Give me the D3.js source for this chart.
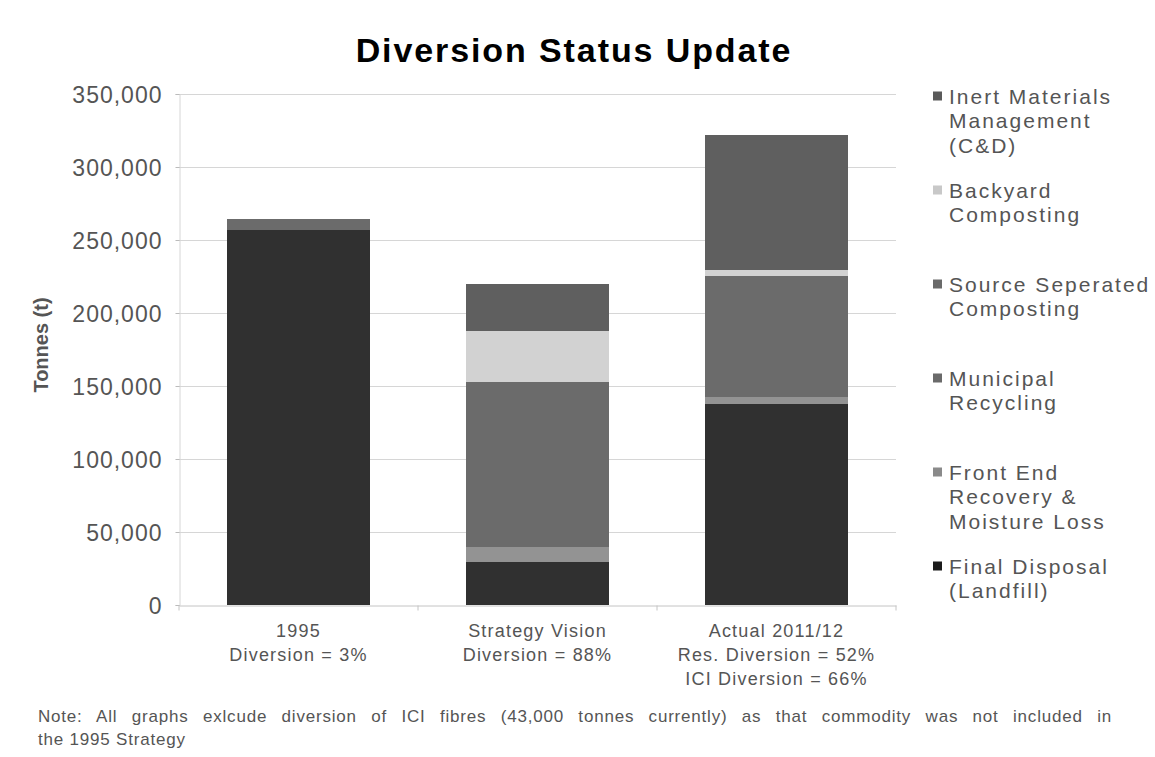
<!DOCTYPE html>
<html>
<head>
<meta charset="utf-8">
<script src="https://cdn.jsdelivr.net/npm/d3@7"></script>
<style>
  html, body { margin: 0; padding: 0; background: #fff; }
  svg { display: block; font-family: "Liberation Sans", Arial, sans-serif; }
</style>
</head>
<body>
<svg id="chart" width="1155" height="757"></svg>
<script>
// ---- data ----
const categories = ["1995", "Strategy Vision", "Actual 2011/12"];
const categoryLabels = [
  ["1995", "Diversion = 3%"],
  ["Strategy Vision", "Diversion = 88%"],
  ["Actual 2011/12", "Res. Diversion = 52%", "ICI Diversion = 66%"]
];
const seriesNames = [
  "Final Disposal (Landfill)",
  "Front End Recovery & Moisture Loss",
  "Municipal Recycling",
  "Source Seperated Composting",
  "Backyard Composting",
  "Inert Materials Management (C&D)"
];
const finalDisposal      = [256600, 29700, 137800];
const frontEndRecovery   = [0, 10300, 5000];
const municipalRecycling = [7800, 44500, 45000];
const sourceSeparated    = [0, 67900, 37750];
const backyardComposting = [0, 35000, 4100];
const inertMaterials     = [0, 32500, 92550];
const yTicks = [0, 50000, 100000, 150000, 200000, 250000, 300000, 350000];
const legendLines = [
  ["Inert Materials", "Management", "(C&D)"],
  ["Backyard", "Composting"],
  ["Source Seperated", "Composting"],
  ["Municipal", "Recycling"],
  ["Front End", "Recovery &", "Moisture Loss"],
  ["Final Disposal", "(Landfill)"]
];
const noteLines = [
  "Note: All graphs exlcude diversion of ICI fibres (43,000 tonnes currently) as that commodity was not included in",
  "the 1995 Strategy"
];

// ---- styles ----
const seriesColors = ["#303030", "#939393", "#6b6b6b", "#6b6b6b", "#d2d2d2", "#5f5f5f"];
const legendSwatch = ["#1c1c1c", "#8a8a8a", "#6a6a6a", "#6a6a6a", "#c8c8c8", "#5a5a5a"];
const textColor = "#555";

const svg = d3.select("#chart");
const seriesValues = [finalDisposal, frontEndRecovery, municipalRecycling, sourceSeparated, backyardComposting, inertMaterials];
const table = categories.map((c, i) => {
  const row = { category: c };
  seriesNames.forEach((s, j) => row[s] = seriesValues[j][i]);
  return row;
});
const stacked = d3.stack().keys(seriesNames)(table);

const x = d3.scaleBand().domain(categories).range([179, 896]).paddingInner(0.4).paddingOuter(0.2);
const y = d3.scaleLinear().domain([0, 350000]).range([605, 94]);

// gridlines
svg.append("g").selectAll("line").data(yTicks.filter(d => d > 0)).join("line")
  .attr("x1", 179).attr("x2", 896)
  .attr("y1", d => Math.round(y(d)) + 0.5).attr("y2", d => Math.round(y(d)) + 0.5)
  .attr("stroke", "#d6d6d6").attr("stroke-width", 1);

// y axis
const yAxis = svg.append("g").attr("transform", "translate(179.5,0)")
  .call(d3.axisLeft(y).tickValues(yTicks).tickSize(4).tickPadding(10).tickFormat(d3.format(",")));
yAxis.select(".domain").attr("stroke", "#d6d6d6");
yAxis.selectAll(".tick line").attr("stroke", "#bbb");
yAxis.selectAll(".tick text")
  .attr("fill", textColor).style("font-size", "23px").style("letter-spacing", "1px")
  .attr("dy", "0.36em").attr("x", -17);

// x axis
const xAxis = svg.append("g").attr("transform", "translate(0,605.5)")
  .call(d3.axisBottom(x).tickSize(0).tickFormat(""));
xAxis.select(".domain").attr("stroke", "#c4c4c4");
const boundaries = [x.range()[0]].concat(categories.map(c => x(c) + x.bandwidth() + x.step() * x.paddingInner() / 2));
boundaries[boundaries.length - 1] = x.range()[1];
xAxis.append("g").selectAll("line").data(boundaries).join("line")
  .attr("x1", d => d).attr("x2", d => d).attr("y1", 0).attr("y2", 5)
  .attr("stroke", "#c4c4c4");

// category labels
const catG = svg.append("g");
categoryLabels.forEach((lines, i) => {
  const cx = x(categories[i]) + x.bandwidth() / 2;
  catG.append("text")
    .attr("x", cx).attr("y", 637)
    .attr("text-anchor", "middle")
    .attr("fill", textColor)
    .style("font-size", "18px").style("letter-spacing", "1.2px")
    .selectAll("tspan").data(lines).join("tspan")
    .attr("x", cx).attr("dy", (d, k) => k === 0 ? 0 : 24)
    .text(d => d);
});

// bars
svg.append("g").attr("shape-rendering", "crispEdges")
  .selectAll("g").data(stacked).join("g")
  .attr("fill", (d, i) => seriesColors[i])
  .selectAll("rect").data(d => d).join("rect")
  .attr("x", d => x(d.data.category))
  .attr("width", x.bandwidth())
  .attr("y", d => y(d[1]))
  .attr("height", d => y(d[0]) - y(d[1]));

// title
svg.append("text")
  .attr("x", 574).attr("y", 62)
  .attr("text-anchor", "middle")
  .attr("fill", "#000")
  .style("font-size", "34px").style("font-weight", "bold").style("letter-spacing", "1.9px")
  .text("Diversion Status Update");

// y title
svg.append("text")
  .attr("transform", "translate(48,345) rotate(-90)")
  .attr("text-anchor", "middle")
  .attr("fill", textColor)
  .style("font-size", "20px").style("font-weight", "bold")
  .text("Tonnes (t)");

// legend (top to bottom: reverse stacking order)
const legendCenters = [96, 190, 284, 378, 472, 566];
const legendG = svg.append("g");
legendLines.forEach((lines, i) => {
  const seriesIdx = seriesNames.length - 1 - i;
  legendG.append("rect")
    .attr("x", 933).attr("y", legendCenters[i] - 4.5).attr("width", 9).attr("height", 9)
    .attr("fill", legendSwatch[seriesIdx]);
  legendG.append("text")
    .attr("x", 949).attr("y", legendCenters[i] + 7.5)
    .attr("fill", textColor)
    .style("font-size", "21px").style("letter-spacing", "2px")
    .selectAll("tspan").data(lines).join("tspan")
    .attr("x", 949).attr("dy", (d, k) => k === 0 ? 0 : 24.5)
    .text(d => d);
});

// note (first line justified to the full width)
const noteG = svg.append("g").attr("fill", textColor)
  .style("font-size", "17px").style("letter-spacing", "0.8px");
const noteFirst = noteG.append("text").attr("x", 38).attr("y", 722).text(noteLines[0]);
const natural = noteFirst.node().getComputedTextLength();
const spaces = (noteLines[0].match(/ /g) || []).length;
noteFirst.style("word-spacing", Math.max(0, (1112 - 38 - natural) / spaces) + "px");
noteG.append("text").attr("x", 38).attr("y", 745).text(noteLines[1]);
</script>
</body>
</html>
